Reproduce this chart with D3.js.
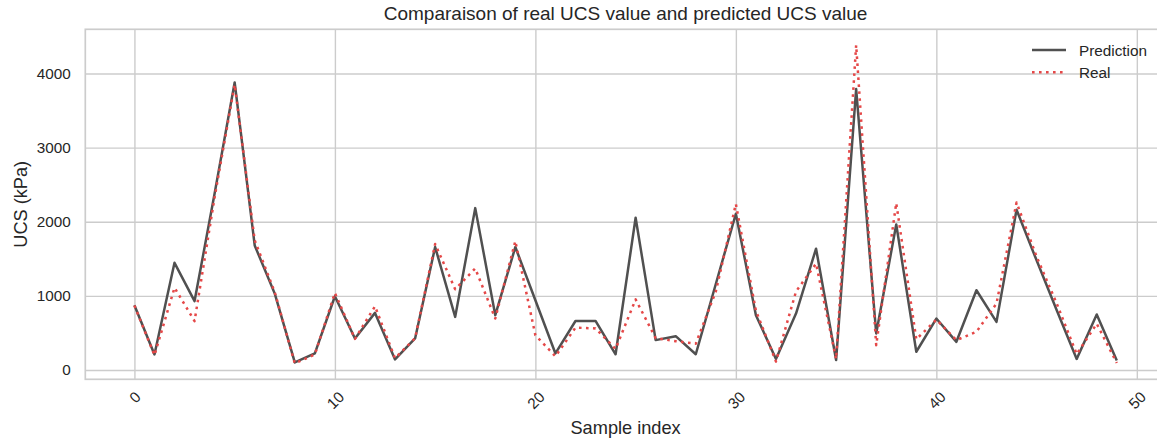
<!DOCTYPE html>
<html>
<head>
<meta charset="utf-8">
<script src="https://cdn.jsdelivr.net/npm/d3@7"></script>
<style>
  html, body { margin: 0; padding: 0; background: #fff; }
  svg { display: block; font-family: "Liberation Sans", Arial, sans-serif; }
</style>
</head>
<body>
<svg id="chart" width="1157" height="444"></svg>
<script>
// UCS per sample: model prediction vs measured value (kPa)
const sampleIndex = d3.range(50);
const predicted = [
  874, 211, 1446, 930, 2380, 3879, 1681, 1031, 103, 224,
  995, 426, 771, 143, 426, 1659, 717, 2184, 740, 1659,
  941, 224, 662, 662, 213, 2054, 404, 457, 213, 1161,
  2108, 740, 150, 762, 1637, 135, 3789, 493, 1964, 247,
  695, 381, 1076, 650, 2161, 1480, 810, 150, 750, 130
];
const real = [
  870, 200, 1110, 660, 2330, 3850, 1750, 1050, 90, 210,
  1040, 420, 860, 160, 430, 1700, 1090, 1370, 695, 1740,
  470, 185, 572, 562, 285, 953, 430, 390, 355, 1060,
  2240, 800, 115, 1060, 1435, 150, 4381, 336, 2251, 415,
  680, 404, 516, 897, 2260, 1530, 900, 215, 625, 95
];
const xTicks = [0, 10, 20, 30, 40, 50];
const yTicks = [0, 1000, 2000, 3000, 4000];
const seriesNames = ["Prediction", "Real"];

const svg = d3.select("#chart");
const ax = { left: 85.3, right: 1165.9, top: 29.3, bottom: 379.3 };
const textColor = "#262626";
const gridColor = "#cccccc";
const predColor = "#505050";
const realColor = "#e54848";
const lw = 2.5;
const dotted = "2.6,4.4";
const tickFont = "15.3px";
const labelFont = "18.2px";
const titleFont = "19px";

// 5% padding on both axes
const xPad = (d3.max(sampleIndex) - d3.min(sampleIndex)) * 0.05;
const x = d3.scaleLinear()
  .domain([d3.min(sampleIndex) - xPad, d3.max(sampleIndex) + xPad])
  .range([ax.left, ax.right]);
const yMin = Math.min(d3.min(predicted), d3.min(real));
const yMax = Math.max(d3.max(predicted), d3.max(real));
const yPad = (yMax - yMin) * 0.05;
const y = d3.scaleLinear()
  .domain([yMin - yPad, yMax + yPad])
  .range([ax.bottom, ax.top]);

// grid
svg.append("g")
  .attr("transform", `translate(0,${ax.bottom})`)
  .call(d3.axisBottom(x).tickValues(xTicks).tickSize(-(ax.bottom - ax.top)).tickFormat(""))
  .call(g => g.select(".domain").remove())
  .call(g => g.selectAll("line").attr("stroke", gridColor).attr("stroke-width", 1.4));
svg.append("g")
  .attr("transform", `translate(${ax.left},0)`)
  .call(d3.axisLeft(y).tickValues(yTicks).tickSize(-(ax.right - ax.left)).tickFormat(""))
  .call(g => g.select(".domain").remove())
  .call(g => g.selectAll("line").attr("stroke", gridColor).attr("stroke-width", 1.4));

// frame
svg.append("rect")
  .attr("x", ax.left).attr("y", ax.top)
  .attr("width", ax.right - ax.left).attr("height", ax.bottom - ax.top)
  .attr("fill", "none").attr("stroke", gridColor).attr("stroke-width", 1.7);

// y tick labels
svg.append("g")
  .attr("transform", `translate(${ax.left - 14.6},0)`)
  .call(d3.axisLeft(y).tickValues(yTicks).tickSize(0).tickPadding(0).tickFormat(d3.format("d")))
  .call(g => g.select(".domain").remove())
  .call(g => g.selectAll("text")
    .attr("fill", textColor).attr("font-size", tickFont)
    .attr("font-family", "Liberation Sans, Arial, sans-serif"));

// x tick labels, rotated 45 degrees
const xAxisG = svg.append("g")
  .attr("transform", `translate(0,${ax.bottom})`)
  .call(d3.axisBottom(x).tickValues(xTicks).tickSize(0).tickFormat(d3.format("d")))
  .call(g => g.select(".domain").remove());
xAxisG.selectAll("text")
  .attr("fill", textColor).attr("font-size", tickFont)
  .attr("font-family", "Liberation Sans, Arial, sans-serif")
  .attr("y", 0).attr("dy", "0.35em")
  .attr("text-anchor", "middle")
  .attr("transform", function () {
    const w = this.getComputedTextLength();
    const h = 11;
    const cy = 11 + (w + h) * 0.354;
    return `translate(0,${cy}) rotate(-45)`;
  });

// axis titles
svg.append("text")
  .attr("x", (ax.left + ax.right) / 2).attr("y", 428)
  .attr("text-anchor", "middle").attr("dominant-baseline", "central")
  .attr("font-size", labelFont).attr("fill", textColor)
  .text("Sample index");
svg.append("text")
  .attr("transform", `translate(20.5,${(ax.top + ax.bottom) / 2}) rotate(-90)`)
  .attr("text-anchor", "middle").attr("dominant-baseline", "central")
  .attr("font-size", labelFont).attr("fill", textColor)
  .text("UCS (kPa)");
svg.append("text")
  .attr("x", (ax.left + ax.right) / 2).attr("y", 13)
  .attr("text-anchor", "middle").attr("dominant-baseline", "central")
  .attr("font-size", titleFont).attr("fill", textColor)
  .text("Comparaison of real UCS value and predicted UCS value");

// series lines
const line = d3.line().x((d, i) => x(sampleIndex[i])).y(d => y(d));
svg.append("path")
  .datum(predicted)
  .attr("d", line)
  .attr("fill", "none").attr("stroke", predColor)
  .attr("stroke-width", lw).attr("stroke-linejoin", "round");
svg.append("path")
  .datum(real)
  .attr("d", line)
  .attr("fill", "none").attr("stroke", realColor)
  .attr("stroke-width", lw).attr("stroke-dasharray", dotted)
  .attr("stroke-linejoin", "round");

// legend
const legend = svg.append("g").attr("transform", "translate(1032,50)");
const legendStyles = [
  { color: predColor, dash: null },
  { color: realColor, dash: dotted }
];
seriesNames.forEach((name, i) => {
  const row = legend.append("g").attr("transform", `translate(0,${i * 22.3})`);
  row.append("line")
    .attr("x1", 0).attr("x2", 34).attr("y1", 0).attr("y2", 0)
    .attr("stroke", legendStyles[i].color).attr("stroke-width", lw)
    .attr("stroke-dasharray", legendStyles[i].dash);
  row.append("text")
    .attr("x", 47).attr("y", 0).attr("dominant-baseline", "central")
    .attr("font-size", tickFont).attr("fill", textColor)
    .text(name);
});
</script>
</body>
</html>
